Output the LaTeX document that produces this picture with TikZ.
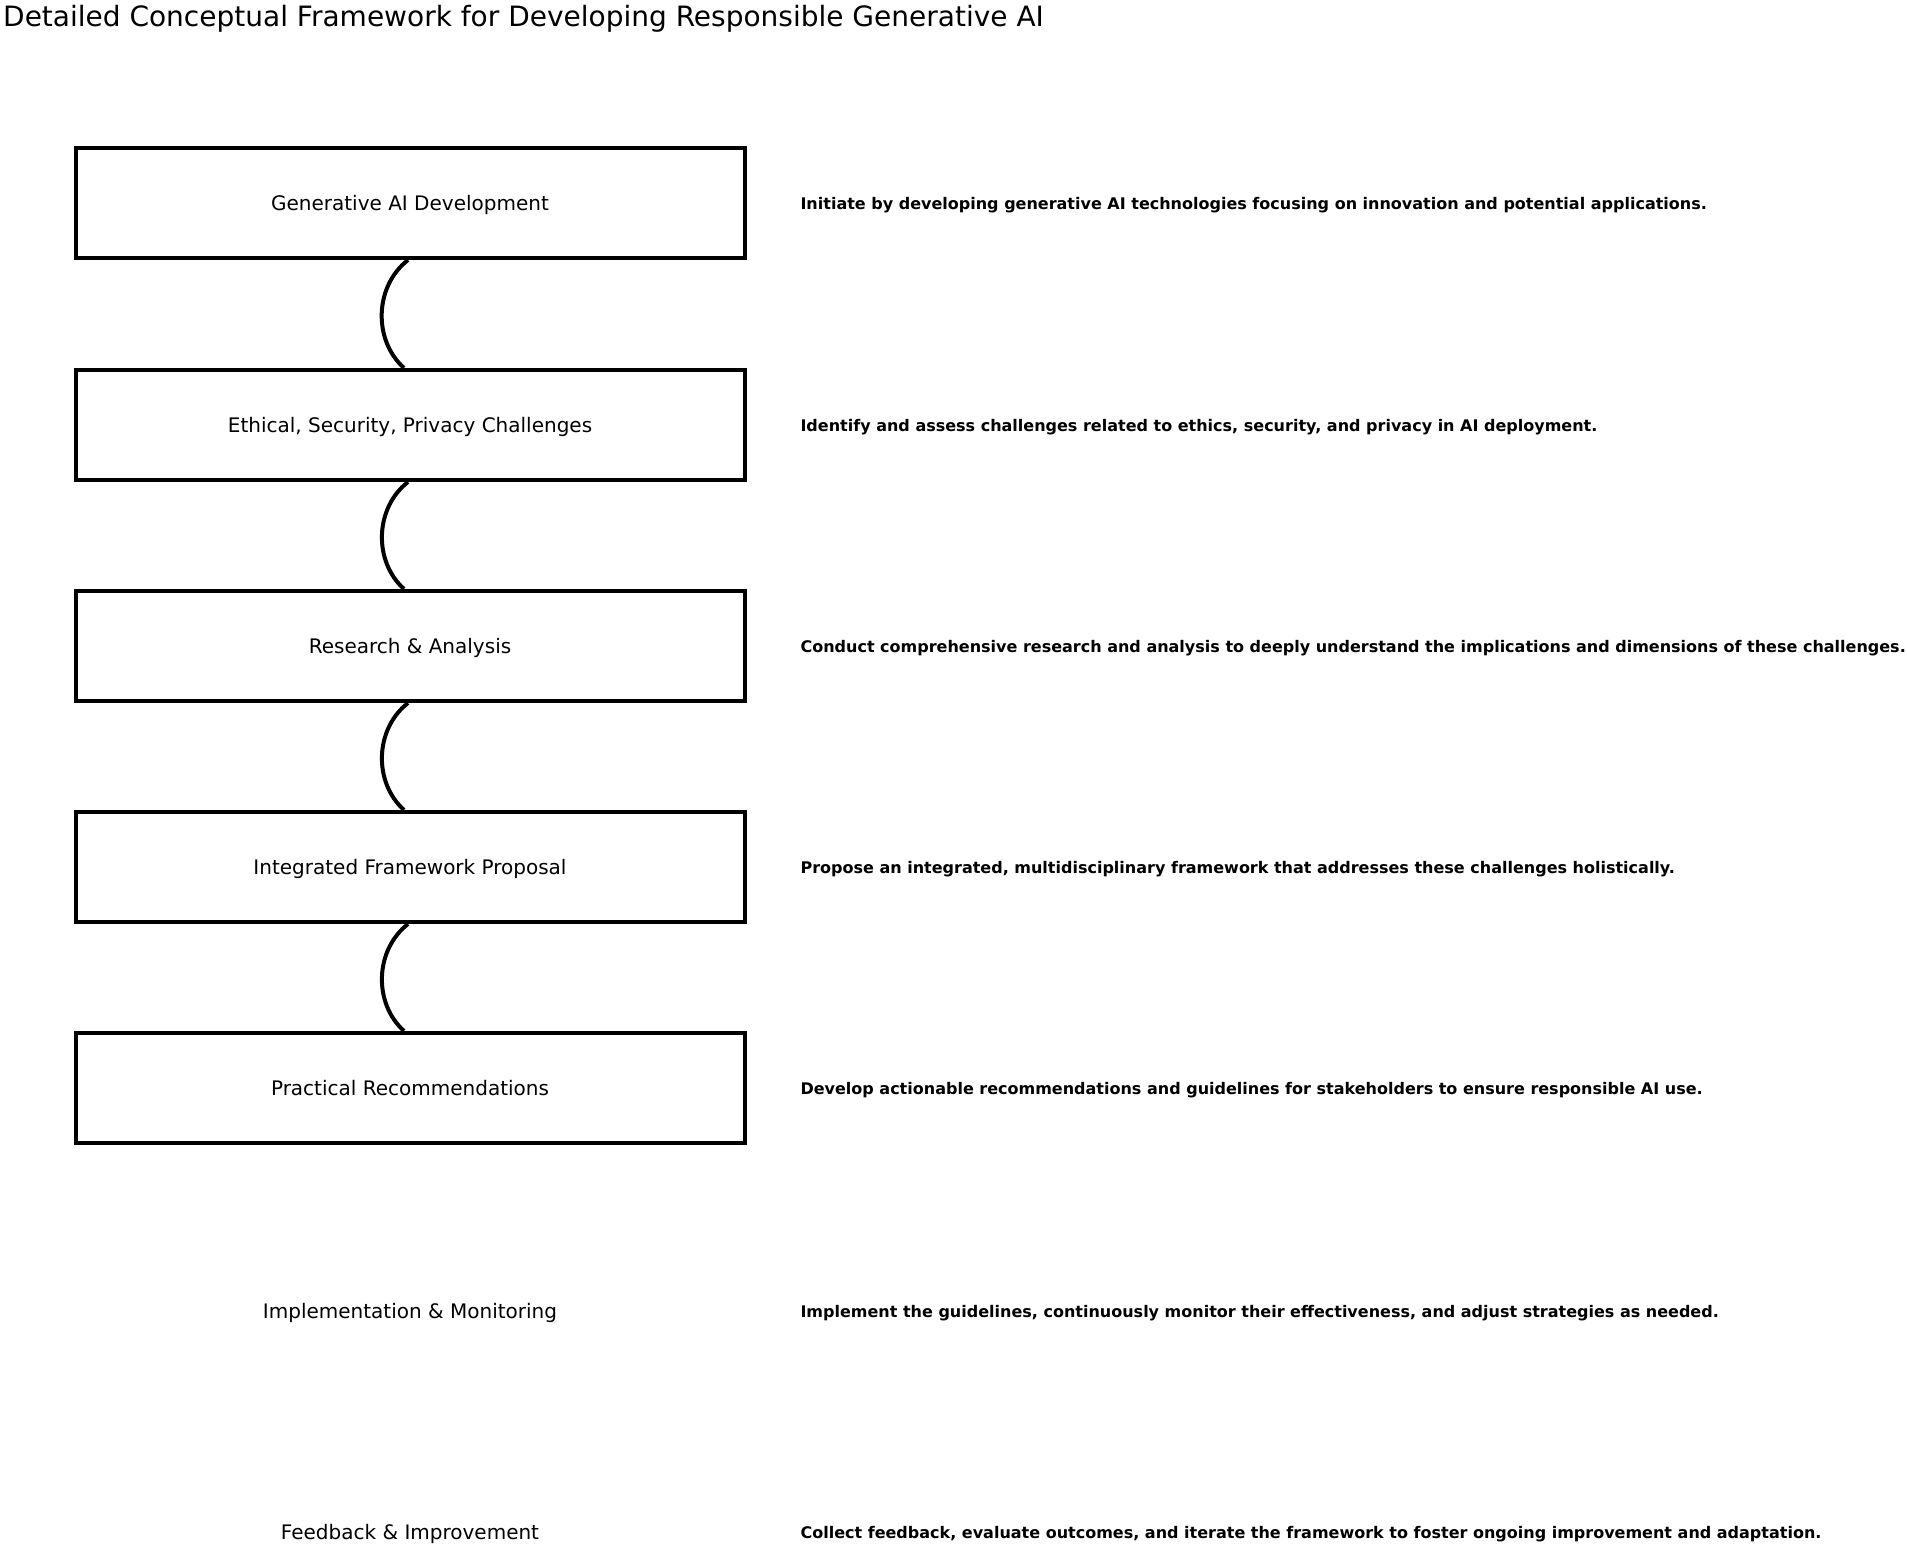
\documentclass[tikz,border=0pt]{standalone}
\usepackage{fontspec}
\setmainfont{DejaVu Sans}
\begin{document}
\begin{tikzpicture}[x=1pt,y=-1pt,
  stage/.style={draw,line width=4pt,minimum width=669pt,minimum height=110pt,text depth=0pt,font=\fontsize{20}{24}\selectfont},
  loose/.style={font=\fontsize{20}{24}\selectfont},
  note/.style={anchor=west,font=\fontsize{16}{19}\selectfont\bfseries},
  link/.style={line width=4pt,bend right=50}]

    \useasboundingbox (0,0) rectangle (1907,1549);

    \node[anchor=west,inner sep=0pt,font=\fontsize{28}{32}\selectfont] (title) at (3,19) {Detailed Conceptual Framework for Developing Responsible Generative AI};

    \node[stage] (gen) at (410,203) {Generative AI Development};
    \node[stage] (eth) at (410,425) {Ethical, Security, Privacy Challenges};
    \node[stage] (res) at (410,646) {Research \& Analysis};
    \node[stage] (frm) at (410,867) {Integrated Framework Proposal};
    \node[stage] (rec) at (410,1088) {Practical Recommendations};
    \node[loose] (imp) at (410,1313) {Implementation \& Monitoring};
    \node[loose] (fbk) at (410,1534) {Feedback \& Improvement};

    \node[note] (gen-d) at (797,205) {Initiate by developing generative AI technologies focusing on innovation and potential applications.};
    \node[note] (eth-d) at (797,427) {Identify and assess challenges related to ethics, security, and privacy in AI deployment.};
    \node[note] (res-d) at (797,648) {Conduct comprehensive research and analysis to deeply understand the implications and dimensions of these challenges.};
    \node[note] (frm-d) at (797,869) {Propose an integrated, multidisciplinary framework that addresses these challenges holistically.};
    \node[note] (rec-d) at (797,1090) {Develop actionable recommendations and guidelines for stakeholders to ensure responsible AI use.};
    \node[note] (imp-d) at (797,1313) {Implement the guidelines, continuously monitor their effectiveness, and adjust strategies as needed.};
    \node[note] (fbk-d) at (797,1534) {Collect feedback, evaluate outcomes, and iterate the framework to foster ongoing improvement and adaptation.};

    \draw[link] ([xshift=-2pt]gen.south) to ([xshift=-6pt]eth.north);
    \draw[link] ([xshift=-2pt]eth.south) to ([xshift=-6pt]res.north);
    \draw[link] ([xshift=-2pt]res.south) to ([xshift=-6pt]frm.north);
    \draw[link] ([xshift=-2pt]frm.south) to ([xshift=-6pt]rec.north);
\end{tikzpicture}
\end{document}
